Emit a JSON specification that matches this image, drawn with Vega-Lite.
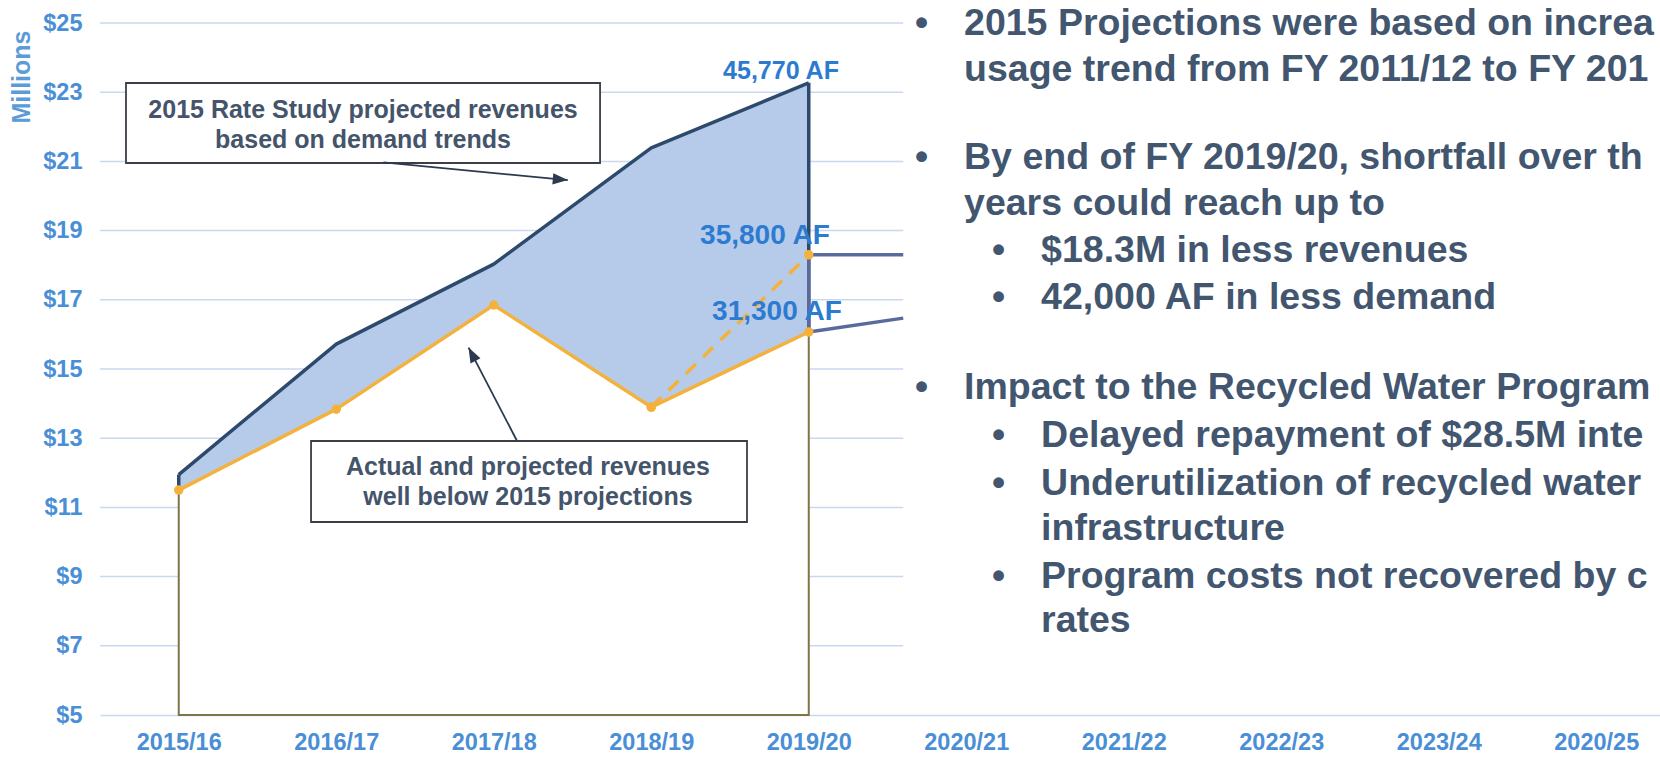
{
  "$schema": "https://vega.github.io/schema/vega-lite/v6.json",
  "width": 1560,
  "height": 692,
  "autosize": {"type": "none"},
  "padding": {"left": 100, "top": 23, "right": 0, "bottom": 46},
  "background": "#ffffff",
  "config": {"view": {"stroke": null}, "text": {"font": "Liberation Sans"}},
  "datasets": {
    "gridlines": [{"m": 7}, {"m": 9}, {"m": 11}, {"m": 13}, {"m": 15}, {"m": 17}, {"m": 19}, {"m": 21}, {"m": 23}, {"m": 25}],
    "rev": [
      {"fy": 2015, "label": "2015/16", "projected2015": 11.95, "actual": 11.5},
      {"fy": 2016, "label": "2016/17", "projected2015": 15.72, "actual": 13.84},
      {"fy": 2017, "label": "2017/18", "projected2015": 18.03, "actual": 16.85},
      {"fy": 2018, "label": "2018/19", "projected2015": 21.39, "actual": 13.9},
      {"fy": 2019, "label": "2019/20", "projected2015": 23.27, "actual": 16.07}
    ],
    "alt": [
      {"scenario": "35,800 AF", "fy": 2018, "m": 13.9},
      {"scenario": "35,800 AF", "fy": 2019, "m": 18.3}
    ],
    "future": [
      {"scenario": "35,800 AF", "fy": 2019, "m": 18.3},
      {"scenario": "35,800 AF", "fy": 2019.6, "m": 18.3},
      {"scenario": "31,300 AF", "fy": 2019, "m": 16.07},
      {"scenario": "31,300 AF", "fy": 2019.6, "m": 16.47}
    ],
    "connector": [{"fy": 2019, "from": 16.07, "to": 18.3}],
    "boxes": [
      {"box": "study", "x1": 2014.665, "x2": 2017.675, "m1": 23.266, "m2": 20.954},
      {"box": "actual", "x1": 2015.84, "x2": 2018.608, "m1": 12.919, "m2": 10.578}
    ],
    "arrows": [
      {"arrow": "study", "fy": 2016.3, "m": 20.97},
      {"arrow": "study", "fy": 2017.47, "m": 20.46},
      {"arrow": "actual", "fy": 2017.148, "m": 12.92},
      {"arrow": "actual", "fy": 2016.84, "m": 15.62}
    ],
    "boxnotes": [
      {"text": "2015 Rate Study projected revenues\nbased on demand trends", "fy": 2016.17, "m": 22.486},
      {"text": "Actual and projected revenues\nwell below 2015 projections", "fy": 2017.217, "m": 12.168}
    ],
    "aflabels": [
      {"text": "35,800 AF", "fy": 2018.722, "m": 18.84},
      {"text": "31,300 AF", "fy": 2018.798, "m": 16.65}
    ],
    "toplabel": [{"text": "45,770 AF", "fy": 2018.824, "m": 23.61}],
    "panel": [
      {"text": "2015 Projections were based on increa", "fy": 2019.986, "m": 24.653},
      {"text": "usage trend from FY 2011/12 to FY 201", "fy": 2019.986, "m": 23.324},
      {"text": "By end of FY 2019/20, shortfall over th", "fy": 2019.986, "m": 20.78},
      {"text": "years could reach up to", "fy": 2019.986, "m": 19.451},
      {"text": "$18.3M in less revenues", "fy": 2020.475, "m": 18.092},
      {"text": "42,000 AF in less demand", "fy": 2020.475, "m": 16.734},
      {"text": "Impact to the Recycled Water Program", "fy": 2019.986, "m": 14.133},
      {"text": "Delayed repayment of $28.5M inte", "fy": 2020.475, "m": 12.746},
      {"text": "Underutilization of recycled water", "fy": 2020.475, "m": 11.358},
      {"text": "infrastructure", "fy": 2020.475, "m": 10.058},
      {"text": "Program costs not recovered by c", "fy": 2020.475, "m": 8.671},
      {"text": "rates", "fy": 2020.475, "m": 7.399}
    ],
    "bullets": [
      {"fy": 2019.675, "m": 24.653},
      {"fy": 2019.675, "m": 20.78},
      {"fy": 2020.163, "m": 18.092},
      {"fy": 2020.163, "m": 16.734},
      {"fy": 2019.675, "m": 14.133},
      {"fy": 2020.163, "m": 12.746},
      {"fy": 2020.163, "m": 11.358},
      {"fy": 2020.163, "m": 8.671}
    ]
  },
  "layer": [
    {
      "data": {"name": "gridlines"},
      "mark": {"type": "rule", "color": "#c8d9ef", "strokeWidth": 1.5},
      "encoding": {
        "y": {
          "field": "m", "type": "quantitative",
          "scale": {"domain": [5, 25], "nice": false, "zero": false},
          "axis": {
            "values": [5, 7, 9, 11, 13, 15, 17, 19, 21, 23, 25],
            "labelExpr": "'$' + datum.value",
            "labelFont": "Liberation Sans", "labelFontSize": 23.5, "labelFontWeight": "bold",
            "labelColor": "#4a8fd6", "labelPadding": 18,
            "ticks": false, "tickSize": 0, "grid": false, "domain": false,
            "title": "Millions", "titleFont": "Liberation Sans", "titleFontSize": 25,
            "titleFontWeight": "bold", "titleColor": "#5a9bd8",
            "titleAnchor": "end", "titlePadding": 8, "titleY": 7
          }
        },
        "x": {
          "datum": 2014.5, "type": "quantitative",
          "scale": {"domain": [2014.5, 2024.4048], "nice": false, "zero": false},
          "axis": {
            "values": [2015, 2016, 2017, 2018, 2019, 2020, 2021, 2022, 2023, 2024],
            "labelExpr": "datum.value == 2024 ? '2020/25' : datum.value + '/' + (datum.value - 1999)",
            "labelFont": "Liberation Sans", "labelFontSize": 23.5, "labelFontWeight": "bold",
            "labelColor": "#4a8fd6", "labelPadding": 15, "labelOverlap": false, "labelFlush": false,
            "ticks": false, "tickSize": 0, "grid": false,
            "domain": true, "domainColor": "#c8d9ef", "domainWidth": 1.5,
            "title": null
          }
        },
        "x2": {"datum": 2019.6}
      }
    },
    {
      "data": {"name": "rev"},
      "mark": {"type": "area", "fill": "#ffffff", "stroke": "#7d7448", "strokeWidth": 2},
      "encoding": {
        "x": {"field": "fy", "type": "quantitative"},
        "y": {"field": "actual", "type": "quantitative"},
        "y2": {"datum": 5}
      }
    },
    {
      "data": {"name": "rev"},
      "mark": {"type": "area", "fill": "#b6cbe9"},
      "encoding": {
        "x": {"field": "fy", "type": "quantitative"},
        "y": {"field": "projected2015", "type": "quantitative"},
        "y2": {"field": "actual"}
      }
    },
    {
      "data": {"name": "future"},
      "mark": {"type": "line", "color": "#5a6a9d", "strokeWidth": 3.5},
      "encoding": {
        "x": {"field": "fy", "type": "quantitative"},
        "y": {"field": "m", "type": "quantitative"},
        "detail": {"field": "scenario"}
      }
    },
    {
      "data": {"name": "rev"},
      "transform": [{"filter": "datum.fy == 2015 || datum.fy == 2019"}],
      "mark": {"type": "rule", "color": "#2d4a6d", "strokeWidth": 3.5},
      "encoding": {
        "x": {"field": "fy", "type": "quantitative"},
        "y": {"field": "projected2015", "type": "quantitative"},
        "y2": {"field": "actual"}
      }
    },
    {
      "data": {"name": "connector"},
      "mark": {"type": "rule", "color": "#5a6a9d", "strokeWidth": 3.5},
      "encoding": {
        "x": {"field": "fy", "type": "quantitative"},
        "y": {"field": "from", "type": "quantitative"},
        "y2": {"field": "to"}
      }
    },
    {
      "data": {"name": "rev"},
      "mark": {"type": "line", "color": "#2d4a6d", "strokeWidth": 3.5, "strokeJoin": "round"},
      "encoding": {
        "x": {"field": "fy", "type": "quantitative"},
        "y": {"field": "projected2015", "type": "quantitative"}
      }
    },
    {
      "data": {"name": "alt"},
      "mark": {"type": "line", "color": "#f4b23c", "strokeWidth": 3.5, "strokeDash": [14, 10]},
      "encoding": {
        "x": {"field": "fy", "type": "quantitative"},
        "y": {"field": "m", "type": "quantitative"}
      }
    },
    {
      "data": {"name": "alt"},
      "mark": {"type": "point", "filled": true, "color": "#f4b23c", "size": 90, "opacity": 1},
      "encoding": {
        "x": {"field": "fy", "type": "quantitative"},
        "y": {"field": "m", "type": "quantitative"}
      }
    },
    {
      "data": {"name": "rev"},
      "mark": {"type": "line", "color": "#f4b23c", "strokeWidth": 3.5, "strokeJoin": "round", "point": {"filled": true, "color": "#f4b23c", "size": 90, "opacity": 1}},
      "encoding": {
        "x": {"field": "fy", "type": "quantitative"},
        "y": {"field": "actual", "type": "quantitative"}
      }
    },
    {
      "data": {"name": "boxes"},
      "mark": {"type": "rect", "fill": "#ffffff", "stroke": "#3a3f46", "strokeWidth": 1.8},
      "encoding": {
        "x": {"field": "x1", "type": "quantitative"},
        "x2": {"field": "x2"},
        "y": {"field": "m1", "type": "quantitative"},
        "y2": {"field": "m2"}
      }
    },
    {
      "data": {"name": "arrows"},
      "mark": {"type": "line", "color": "#2b3a4f", "strokeWidth": 1.8},
      "encoding": {
        "x": {"field": "fy", "type": "quantitative"},
        "y": {"field": "m", "type": "quantitative"},
        "detail": {"field": "arrow"}
      }
    },
    {
      "data": {"name": "arrows"},
      "transform": [{"filter": "datum.arrow == 'study' && datum.fy > 2017"}],
      "mark": {"type": "point", "shape": "M0,0 L-2,-0.75 L-2,0.75 Z", "filled": true, "color": "#2b3a4f", "size": 225, "angle": 5, "opacity": 1},
      "encoding": {
        "x": {"field": "fy", "type": "quantitative"},
        "y": {"field": "m", "type": "quantitative"}
      }
    },
    {
      "data": {"name": "arrows"},
      "transform": [{"filter": "datum.arrow == 'actual' && datum.m > 14"}],
      "mark": {"type": "point", "shape": "M0,0 L-2,-0.75 L-2,0.75 Z", "filled": true, "color": "#2b3a4f", "size": 225, "angle": 242.5, "opacity": 1},
      "encoding": {
        "x": {"field": "fy", "type": "quantitative"},
        "y": {"field": "m", "type": "quantitative"}
      }
    },
    {
      "data": {"name": "boxnotes"},
      "mark": {"type": "text", "font": "Liberation Sans", "fontSize": 25, "fontWeight": "bold", "color": "#44546a", "align": "center", "baseline": "middle", "lineBreak": "\n", "lineHeight": 30.5},
      "encoding": {
        "x": {"field": "fy", "type": "quantitative"},
        "y": {"field": "m", "type": "quantitative"},
        "text": {"field": "text"}
      }
    },
    {
      "data": {"name": "toplabel"},
      "mark": {"type": "text", "font": "Liberation Sans", "fontSize": 25, "fontWeight": "bold", "color": "#2c7bd1", "align": "center", "baseline": "middle"},
      "encoding": {
        "x": {"field": "fy", "type": "quantitative"},
        "y": {"field": "m", "type": "quantitative"},
        "text": {"field": "text"}
      }
    },
    {
      "data": {"name": "aflabels"},
      "mark": {"type": "text", "font": "Liberation Sans", "fontSize": 28, "fontWeight": "bold", "color": "#2c7bd1", "align": "center", "baseline": "middle"},
      "encoding": {
        "x": {"field": "fy", "type": "quantitative"},
        "y": {"field": "m", "type": "quantitative"},
        "text": {"field": "text"}
      }
    },
    {
      "data": {"name": "panel"},
      "mark": {"type": "text", "font": "Liberation Sans", "fontSize": 37.5, "fontWeight": "bold", "color": "#42566f", "align": "left", "baseline": "alphabetic"},
      "encoding": {
        "x": {"field": "fy", "type": "quantitative"},
        "y": {"field": "m", "type": "quantitative"},
        "text": {"field": "text"}
      }
    },
    {
      "data": {"name": "bullets"},
      "mark": {"type": "text", "text": "•", "font": "Liberation Sans", "fontSize": 37.5, "fontWeight": "bold", "color": "#42566f", "align": "left", "baseline": "alphabetic"},
      "encoding": {
        "x": {"field": "fy", "type": "quantitative"},
        "y": {"field": "m", "type": "quantitative"}
      }
    }
  ]
}
